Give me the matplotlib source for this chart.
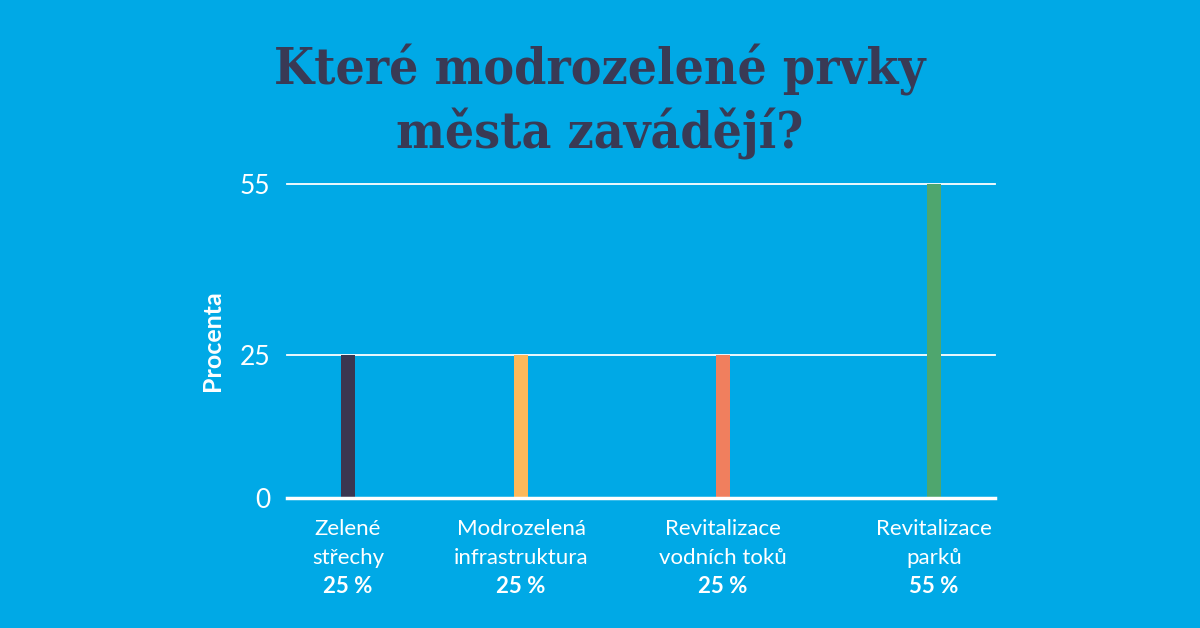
import matplotlib
matplotlib.use("Agg")
import matplotlib.pyplot as plt

categories = ["Zelené\nstřechy", "Modrozelená\ninfrastruktura", "Revitalizace\nvodních toků", "Revitalizace\nparků"]
values = [25, 25, 25, 55]
value_labels = ["25 %", "25 %", "25 %", "55 %"]
yticks = [0, 25, 55]
title = "Které modrozelené prvky\nměsta zavádějí?"
ylabel = "Procenta"

# layout (not data)
positions = [0, 1, 2.168, 3.387]
bar_colors = ["#3b3650", "#fdb95a", "#f07f5e", "#4fa66e"]
BG = "#00a9e6"
TITLE_C = "#393a55"

fig = plt.figure(figsize=(12, 6.28), dpi=100)
fig.patch.set_facecolor(BG)
ax = fig.add_axes([287/1200, 130/628, (995-287)/1200, (498-184)/628])
ax.set_facecolor(BG)

ax.bar(positions, values, width=0.08, color=bar_colors, zorder=3)
ax.set_xlim(-0.353, 3.740)
ax.set_ylim(0, 55)
ax.set_yticks(yticks)
ax.set_yticklabels([str(t) for t in yticks], fontsize=19, color="white", family="Lato", fontweight="normal")
ax.tick_params(axis="y", length=0, pad=12)
ax.tick_params(axis="x", length=0)
ax.set_xticks([])
for s in ax.spines.values():
    s.set_visible(False)
for t in yticks[1:]:
    ax.axhline(t, color="white", lw=1.3, zorder=2, clip_on=False)
ax.axhline(0, color="white", lw=2.5, zorder=4, clip_on=False)

ax.set_ylabel(ylabel, fontsize=18, color="white", fontweight="bold", family="Lato", labelpad=11)

for p, c, v in zip(positions, categories, value_labels):
    ax.annotate(c, xy=(p, 0), xycoords=("data", "axes fraction"), xytext=(0, -15), textcoords="offset points",
                ha="center", va="top", fontsize=16, color="white", family="Lato", linespacing=1.55)
    ax.annotate(v, xy=(p, 0), xycoords=("data", "axes fraction"), xytext=(0, -56), textcoords="offset points",
                ha="center", va="top", fontsize=16, color="white", family="Lato", fontweight="bold")

fig.text(0.5, 1 - 149/628, title, ha="center", va="baseline", fontsize=37, color=TITLE_C,
         family="DejaVu Serif", fontstretch="condensed", fontweight="bold", linespacing=1.3)

fig.savefig("out.png", dpi=100, facecolor=BG)
